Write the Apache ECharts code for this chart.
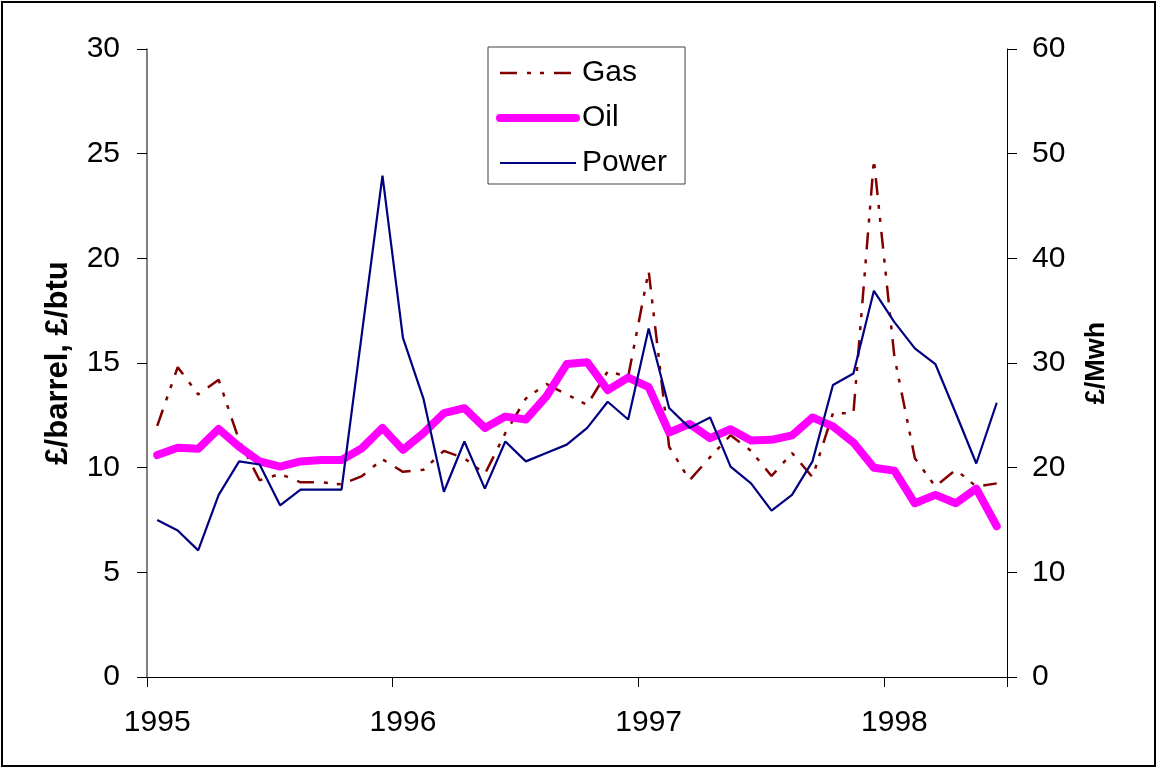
<!DOCTYPE html>
<html>
<head>
<meta charset="utf-8">
<script src="https://cdn.jsdelivr.net/npm/echarts@6/dist/echarts.min.js"></script>
<style>
  html, body { margin: 0; padding: 0; background: #fff; }
  #chart { width: 1158px; height: 769px; }
</style>
</head>
<body>
<div id="chart"></div>
<script>
// Monthly categories, Jan 1995 – Jun 1998
var categories = [
  '1995-01','1995-02','1995-03','1995-04','1995-05','1995-06','1995-07','1995-08','1995-09','1995-10','1995-11','1995-12',
  '1996-01','1996-02','1996-03','1996-04','1996-05','1996-06','1996-07','1996-08','1996-09','1996-10','1996-11','1996-12',
  '1997-01','1997-02','1997-03','1997-04','1997-05','1997-06','1997-07','1997-08','1997-09','1997-10','1997-11','1997-12',
  '1998-01','1998-02','1998-03','1998-04','1998-05','1998-06'
];

// Gas (£/btu, left axis)
var gas = [
  12.0, 14.8, 13.5, 14.2, 11.3, 9.4, 9.7, 9.3, 9.3, 9.2, 9.6, 10.4,
  9.8, 9.9, 10.8, 10.45, 9.7, 11.65, 13.3, 14.0, 13.5, 13.0, 14.6, 14.35,
  19.4, 11.0, 9.4, 10.5, 11.55, 10.8, 9.6, 10.7, 9.55, 12.6, 12.6, 24.7,
  15.3, 10.45, 9.1, 9.9, 9.1, 9.25
];

// Oil (£/barrel, left axis)
var oil = [
  10.6, 10.95, 10.9, 11.85, 11.0, 10.3, 10.05, 10.3, 10.37, 10.37, 10.93, 11.9,
  10.85, 11.65, 12.6, 12.84, 11.9, 12.44, 12.3, 13.4, 14.95, 15.04, 13.7, 14.3,
  13.85, 11.68, 12.09, 11.41, 11.84, 11.3, 11.33, 11.54, 12.4, 11.97, 11.2, 10.0,
  9.86, 8.3, 8.7, 8.3, 9.0, 7.2
];

// Power (£/MWh, right axis)
var power = [
  15.0, 14.0, 12.1, 17.4, 20.6, 20.3, 16.4, 17.9, 17.9, 17.9, 32.9, 47.9,
  32.4, 26.6, 17.7, 22.5, 18.0, 22.5, 20.6, 21.4, 22.2, 23.8, 26.3, 24.6,
  33.3, 25.7, 23.8, 24.8, 20.1, 18.5, 15.9, 17.4, 20.6, 27.9, 29.0, 36.9,
  33.9, 31.4, 29.9, 25.2, 20.4, 26.2
];

var seriesNames = ['Gas', 'Oil', 'Power'];
var leftAxisName = '£/barrel, £/btu';
var rightAxisName = '£/Mwh';

var FONT = "'Liberation Sans', Arial, sans-serif";
var gasDash = [17, 10, 4, 9, 4, 10];

var chart = echarts.init(document.getElementById('chart'), null, { renderer: 'canvas' });

chart.setOption({
  animation: false,
  backgroundColor: '#ffffff',
  graphic: [{
    type: 'rect',
    shape: { x: 2, y: 2, width: 1153, height: 764 },
    style: { fill: 'none', stroke: '#000', lineWidth: 2 },
    silent: true,
    z: 100
  }],
  grid: { left: 147, right: 151, top: 49, bottom: 92 },
  legend: {
    data: [
      { name: seriesNames[0], itemStyle: { opacity: 0 }, lineStyle: { color: '#800000', width: 2.5, type: gasDash } },
      { name: seriesNames[1], itemStyle: { opacity: 0 }, lineStyle: { color: '#FF00FF', width: 8, cap: 'round' } },
      { name: seriesNames[2], itemStyle: { opacity: 0 }, lineStyle: { color: '#000080', width: 2.2 } }
    ],
    orient: 'vertical',
    left: 488,
    top: 47,
    itemWidth: 76,
    itemHeight: 14,
    itemGap: 15,
    padding: [11, 18, 6, 8],
    borderColor: '#404040',
    borderWidth: 1,
    backgroundColor: '#fff',
    textStyle: { fontSize: 30, color: '#000', fontFamily: FONT, padding: [0, 0, 0, 1] }
  },
  xAxis: {
    type: 'category',
    data: categories,
    boundaryGap: true,
    axisLine: { show: true, lineStyle: { color: '#000', width: 1 } },
    axisTick: { show: true, interval: 11, length: 10, inside: false, lineStyle: { color: '#000' } },
    axisLabel: {
      interval: 11,
      margin: 31,
      fontSize: 30,
      color: '#000',
      fontFamily: FONT,
      formatter: function (v) { return v.slice(0, 4); }
    },
    splitLine: { show: false }
  },
  yAxis: [{
    type: 'value',
    min: 0, max: 30, interval: 5,
    position: 'left',
    name: leftAxisName,
    nameLocation: 'middle',
    nameRotate: 90,
    nameGap: 73,
    nameTextStyle: { fontSize: 31, fontWeight: 'bold', color: '#000', fontFamily: FONT },
    axisLine: { show: true, lineStyle: { color: '#555', width: 1.5 } },
    axisTick: { show: true, length: 10, inside: false, lineStyle: { color: '#000' } },
    axisLabel: { margin: 27, fontSize: 30, color: '#000', fontFamily: FONT },
    splitLine: { show: false }
  }, {
    type: 'value',
    min: 0, max: 60, interval: 10,
    position: 'right',
    name: rightAxisName,
    nameLocation: 'middle',
    nameRotate: 90,
    nameGap: 76,
    nameTextStyle: { fontSize: 27, fontWeight: 'bold', color: '#000', fontFamily: FONT },
    axisLine: { show: true, lineStyle: { color: '#000', width: 1 } },
    axisTick: { show: true, length: 10, inside: false, lineStyle: { color: '#000' } },
    axisLabel: { margin: 25, fontSize: 30, color: '#000', fontFamily: FONT },
    splitLine: { show: false }
  }],
  series: [{
    name: seriesNames[0],
    type: 'line',
    yAxisIndex: 0,
    data: gas,
    symbol: 'none',
    color: '#800000',
    lineStyle: { color: '#800000', width: 2.5, type: gasDash },
    z: 2
  }, {
    name: seriesNames[1],
    type: 'line',
    yAxisIndex: 0,
    data: oil,
    symbol: 'none',
    color: '#FF00FF',
    lineStyle: { color: '#FF00FF', width: 8, cap: 'round', join: 'round' },
    z: 3
  }, {
    name: seriesNames[2],
    type: 'line',
    yAxisIndex: 1,
    data: power,
    symbol: 'none',
    color: '#000080',
    lineStyle: { color: '#000080', width: 2.2 },
    z: 4
  }]
});
</script>
</body>
</html>
